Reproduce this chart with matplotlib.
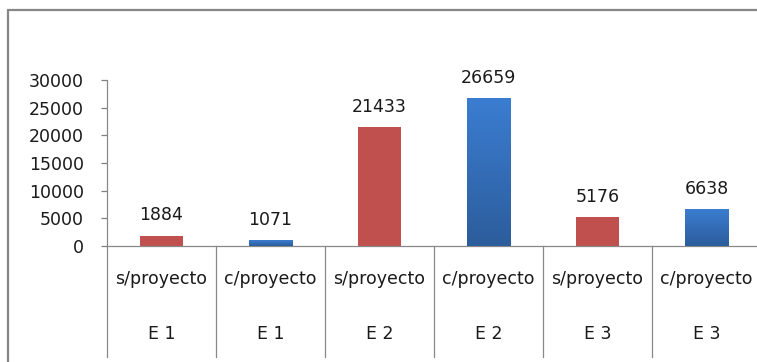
import numpy as np
import matplotlib.pyplot as plt
from matplotlib.colors import LinearSegmentedColormap
from matplotlib.patches import Rectangle
import matplotlib.transforms as mtransforms

plt.rcParams['font.family'] = ['DejaVu Sans']

proyecto = ["s/proyecto", "c/proyecto", "s/proyecto", "c/proyecto", "s/proyecto", "c/proyecto"]
etapa = ["E 1", "E 1", "E 2", "E 2", "E 3", "E 3"]
valores = [1884, 1071, 21433, 26659, 5176, 6638]
yticks = [0, 5000, 10000, 15000, 20000, 25000, 30000]

RED = "#C0504D"
TXT = "#1a1a1a"
FS = 12.5
blue_grad = LinearSegmentedColormap.from_list("bl", ["#2C5D9C", "#3B7DD1"])

fig = plt.figure(figsize=(7.57, 3.62), dpi=100)
W, H = 757, 362

# outer chart frame (runs off the right and bottom edge)
fig.patches.append(Rectangle((8 / W, -0.1), 1.2, 1 - 10 / H + 0.1,
                             transform=fig.transFigure, fill=False,
                             edgecolor="#878787", linewidth=1.6))

ax = fig.add_axes([107 / W, 1 - 246 / H, (761 - 107) / W, (246 - 80) / H])
x = np.arange(len(valores))
bars = ax.bar(x, valores, width=0.4, color=[RED if i % 2 == 0 else "#3A74C0" for i in x],
              zorder=2)

# vertical gradient on the blue bars
grad = np.linspace(0, 1, 256).reshape(-1, 1)
for i, b in enumerate(bars):
    if i % 2 == 1:
        x0, w, h = b.get_x(), b.get_width(), b.get_height()
        im = ax.imshow(grad, cmap=blue_grad, origin="lower", aspect="auto",
                       extent=[x0, x0 + w, 0, h], zorder=3)
        im.set_clip_path(b)

for xi, v in zip(x, valores):
    ax.annotate(str(v), (xi, v), xytext=(0, 8), textcoords="offset points",
                ha="center", va="bottom", fontsize=FS, color=TXT)

ax.set_xlim(-0.5, len(valores) - 0.5)
ax.set_ylim(0, 30000)
ax.set_yticks(yticks)
ax.set_yticklabels([str(t) for t in yticks], fontsize=FS, color=TXT)
ax.tick_params(axis="y", length=4.5, width=0.9, color="#808080", pad=12)
ax.set_xticks([])
for s in ["top", "right"]:
    ax.spines[s].set_visible(False)
for s in ["left", "bottom"]:
    ax.spines[s].set_color("#888888")
    ax.spines[s].set_linewidth(0.9)

# two-level category axis
trans = mtransforms.blended_transform_factory(ax.transData, ax.transAxes)
px = 1 / (246 - 80)
for i in range(len(valores) + 1):
    ax.plot([i - 0.5, i - 0.5], [0, -(357 - 246) * px], transform=trans,
            color="#888888", linewidth=0.9, clip_on=False)
for xi, p, e in zip(x, proyecto, etapa):
    ax.text(xi, -(279 - 246) * px, p, transform=trans, ha="center", va="center",
            fontsize=FS, color=TXT)
    ax.text(xi, -(334 - 246) * px, e, transform=trans, ha="center", va="center",
            fontsize=FS, color=TXT)

fig.savefig("out.png", dpi=100)
